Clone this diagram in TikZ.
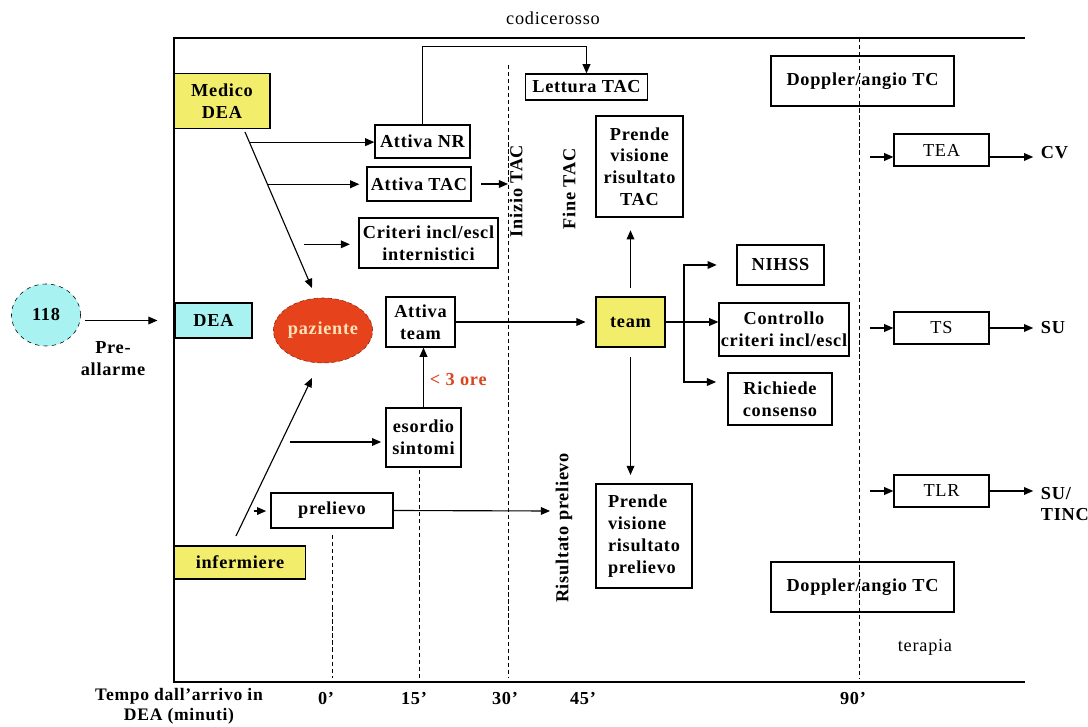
\documentclass[tikz,border=0pt]{standalone}
\usepackage{fontspec}
\setmainfont{Liberation Serif}[LetterSpace=4]
\usetikzlibrary{arrows.meta,shapes.geometric,calc}
\definecolor{giallo}{HTML}{F2EE6B}
\definecolor{ciano}{HTML}{A8F2F2}
\definecolor{rosso}{HTML}{E6431D}
\definecolor{pesca}{HTML}{FFE2B8}
\definecolor{arancio}{HTML}{D9461E}

\begin{document}
\begin{tikzpicture}[x=0.025cm,y=-0.025cm,
  font=\fontsize{13}{15.5}\selectfont\bfseries,
  sz/.style 2 args={minimum width=#1*0.025cm,minimum height=#2*0.025cm},
  box/.style={draw,line width=0.9pt,inner sep=1pt,align=center},
  arr/.style={-{Triangle[length=6.5pt,width=5.5pt]},line width=0.8pt},
  tline/.style={dash pattern=on 3pt off 2pt,line width=0.7pt},
  piano/.style={font=\fontsize{13}{15.5}\selectfont\mdseries}]
\useasboundingbox (0,0) rectangle (1088,727);

% cornice
\draw[line width=1pt] (1025,38) -- (174,38) -- (174,682) -- (1025,682);
\node[piano] (codice) at (553,18) {codicerosso};

% linee dei tempi
\foreach \x/\t/\ytop in {332/0/535,419/15/470,508/30/65,859/90/38}{
  \coordinate (q\t) at (\x,\ytop);
  \draw[tline] (q\t) -- (\x,678);
}
\foreach \x/\t in {326/0,414/15,505/30,583/45,853/90}
  \node (t\t) at (\x,699) {\t'};
\node[align=center,font=\fontsize{12.5}{14}\selectfont\bfseries] (tempo) at (179,706)
  {Tempo dall'arrivo in\\DEA (minuti)};

% attori
\node[ellipse,draw,dashed,fill=ciano,sz={69}{62},inner sep=0pt] (n118) at (46,315) {118};
\node[align=center] (pre) at (113,359) {Pre-\\allarme};
\node[box,fill=giallo,sz={96}{55}] (med) at (222,101) {Medico\\DEA};
\node[box,fill=ciano,sz={77}{35}] (dea) at (213.5,320.5) {DEA};
\node[box,fill=giallo,sz={131}{33}] (inf) at (240,562.5) {infermiere};
\node[ellipse,draw=rosso!60!black,densely dashed,fill=rosso,text=pesca,
  sz={90}{65},inner sep=0pt] (paz) at (323,330.5) {paziente};

% attivazioni
\node[box,sz={95}{33}] (anr) at (422.5,141.5) {Attiva NR};
\node[box,sz={104}{34}] (atac) at (419,184) {Attiva TAC};
\node[box,sz={139}{50}] (crit) at (428.5,243) {Criteri incl/escl\\internistici};
\node[box,sz={69}{50}] (ateam) at (420.5,322) {Attiva\\team};
\node[box,sz={75}{59}] (esor) at (423.5,437.5) {esordio\\sintomi};
\node[box,sz={122}{35}] (prel) at (332,510.5) {prelievo};
\node[text=arancio,anchor=west] (ore) at (425,380) {< 3 ore};

% TAC e team
\node[box,sz={122}{26}] (ltac) at (586.5,87) {Lettura TAC};
\node[box,sz={87}{101}] (ptac) at (639.5,166.5) {Prende\\visione\\risultato\\TAC};
\node[box,fill=giallo,sz={69}{50}] (team) at (630.5,322) {team};
\node[box,align=left,sz={96}{104}] (pprel) at (644,536) {Prende\\visione\\risultato\\prelievo};
\node[box,sz={87}{40}] (nihss) at (780.5,265) {NIHSS};
\node[box,sz={130}{53}] (ctrl) at (784,329.5) {Controllo\\criteri incl/escl};
\node[box,sz={104}{52}] (rich) at (780,399) {Richiede\\consenso};
\node[rotate=90] (ini) at (516,191) {Inizio TAC};
\node[rotate=90] (fine) at (569,189) {Fine TAC};
\node[rotate=90] (ris) at (564,528) {Risultato prelievo};

% terapia
\node[box,sz={183}{50}] (dop1) at (862.5,81) {Doppler/angio TC};
\node[box,sz={183}{50}] (dop2) at (862.5,587) {Doppler/angio TC};
\node[box,piano,sz={95}{32}] (tea) at (941.5,150) {TEA};
\node[box,piano,sz={95}{32}] (ts) at (941.5,328) {TS};
\node[box,piano,sz={95}{32}] (tlr) at (941.5,491) {TLR};
\node[anchor=west] (cv) at (1036,153) {CV};
\node[anchor=west] (su) at (1036,328) {SU};
\node[anchor=west,align=left] (su2) at (1036,504) {SU/\\TINC};
\node[piano] (ter) at (925,647) {terapia};

% frecce
\draw[arr,shorten <=3pt,shorten >=12pt] (n118.east |- dea.west) -- (dea.west);

\coordinate (m0) at (245,132);
\coordinate (m1) at (312,288);
\draw[arr] (m0) -- (m1);
\path (m0) -- (m1) coordinate[pos=0.065] (d1) coordinate[pos=0.335] (d2)
  coordinate[pos=0.72] (d3);
\draw[arr] (d1) -- (anr.west |- d1);
\draw[arr,shorten >=5pt] (d2) -- (atac.west |- d2);
\draw[arr,shorten <=8pt,shorten >=6pt] (d3) -- (crit.west |- d3);

\coordinate (i0) at (236,536);
\coordinate (i1) at (312,378);
\draw[arr] (i0) -- (i1);
\path (i0) -- (i1) coordinate[pos=0.158] (e1) coordinate[pos=0.595] (e2);
\draw[arr,shorten <=4pt,shorten >=3pt] (e1) -- (prel.west |- e1);
\draw[arr,shorten <=6pt,shorten >=3pt] (e2) -- (esor.west |- e2);

\draw[arr] (anr.north) -- ++(0,-78) -| (ltac.north);
\draw[arr,shorten <=7pt] (atac.east) -- (atac.east -| q30);
\draw[arr] (esor.north) -- (esor.north |- ateam.south);
\draw[arr,shorten >=7pt] (ateam.east) -- (team.west);
\draw[arr,shorten <=6pt,shorten >=9pt] (team.north) -- (team.north |- ptac.south);
\draw[arr,shorten <=7pt,shorten >=6pt] (team.south) -- (team.south |- pprel.north);

\coordinate (br) at (684,322);
\draw[arr] (team.east) -- (ctrl.west |- team.east);
\draw[arr,shorten >=14pt] (br) |- (nihss.west);
\draw[arr,shorten >=8pt] (br) |- ($(rich.west)+(0,-17)$);

\coordinate (rp) at (550,511);
\draw[arr] (prel.east) -- (rp);

\draw[arr,shorten <=8pt] ($(tea.west -| q90)+(0,7)$) -- ($(tea.west)+(0,7)$);
\draw[arr,shorten >=2pt] ($(tea.east)+(0,7)$) -- ($(tea.east -| cv.west)+(0,7)$);
\foreach \n/\m in {ts/su,tlr/su2}{
  \draw[arr,shorten <=8pt] (\n.west -| q90) -- (\n.west);
  \draw[arr,shorten >=2pt] (\n.east) -- (\n.east -| \m.west);
}
\end{tikzpicture}
\end{document}
